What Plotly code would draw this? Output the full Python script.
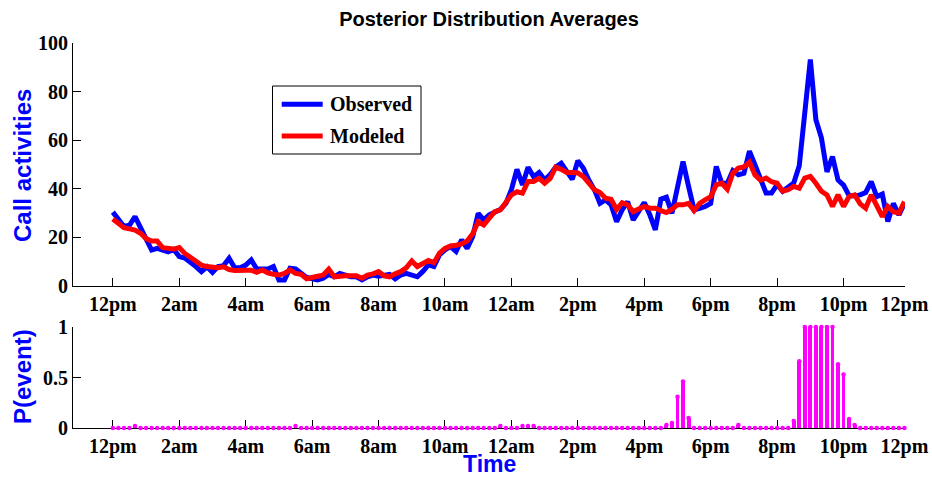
import plotly.graph_objects as go

# 10-minute bins over one day (144 samples)
observed = [
    30.4, 27.0, 24.5, 25.0, 28.6, 24.0, 19.0, 14.8, 15.5, 15.0,
    14.1, 15.0, 12.1, 11.5, 10.0, 8.0, 5.9, 7.9, 5.6, 8.0,
    8.4, 11.4, 7.5, 7.5, 8.6, 10.7, 7.0, 7.0, 7.0, 8.0,
    2.5, 2.5, 7.3, 7.0, 5.0, 3.5, 3.0, 2.5, 3.2, 4.8,
    3.8, 5.2, 4.5, 3.8, 3.8, 2.5, 3.8, 4.5, 4.0, 4.2,
    4.8, 2.9, 4.5, 5.2, 4.5, 3.8, 6.0, 8.7, 8.0, 12.8,
    14.9, 16.2, 14.2, 19.0, 15.5, 20.3, 29.9, 27.2, 29.3, 30.6,
    31.5, 34.0, 39.6, 48.0, 41.6, 48.9, 45.0, 46.7, 43.7, 45.8,
    48.9, 50.5, 47.0, 43.9, 51.6, 48.5, 43.5, 39.6, 34.0, 35.4,
    33.4, 26.5, 31.3, 34.7, 27.2, 30.6, 34.3, 29.3, 23.1, 35.7,
    36.5, 29.9, 40.9, 51.2, 41.0, 31.3, 32.0, 32.7, 34.0, 49.2,
    42.3, 42.3, 47.5, 45.8, 46.4, 55.5, 49.8, 44.4, 38.3, 38.3,
    41.7, 39.0, 40.4, 42.4, 49.5, 71.5, 93.2, 68.4, 61.0, 47.0,
    53.3, 43.6, 41.5, 37.2, 37.0, 37.5, 38.5, 43.0, 36.8, 37.8,
    26.5, 34.0, 29.2, 34.0,
]

modeled = [
    27.6, 25.5, 24.0, 23.5, 23.0, 21.7, 19.5, 18.5, 18.5, 15.8,
    15.3, 15.2, 15.8, 13.4, 11.8, 10.0, 8.6, 8.0, 7.5, 7.5,
    7.9, 6.8, 6.4, 6.2, 6.5, 6.5, 5.6, 6.6, 5.4, 4.8,
    4.5, 5.2, 6.6, 5.2, 4.8, 3.0, 3.3, 4.0, 4.5, 6.9,
    3.8, 4.2, 4.2, 4.2, 4.2, 3.2, 4.5, 5.0, 5.9, 4.2,
    3.8, 5.0, 5.9, 7.5, 10.3, 8.0, 9.0, 10.5, 9.6, 13.5,
    15.5, 16.5, 16.8, 17.3, 18.5, 21.5, 26.5, 25.1, 27.9, 30.6,
    31.3, 34.7, 37.5, 38.8, 38.2, 43.0, 43.0, 44.3, 42.3, 44.3,
    48.9, 48.0, 46.7, 46.7, 46.5, 45.0, 42.5, 39.6, 38.5, 36.1,
    35.7, 31.5, 34.3, 33.4, 30.6, 31.6, 32.7, 32.0, 32.0, 31.0,
    30.2, 31.6, 33.4, 33.4, 34.0, 31.0, 34.0, 35.4, 36.8, 41.6,
    42.3, 39.8, 46.4, 48.5, 49.0, 51.0, 45.7, 43.6, 44.4, 42.9,
    42.3, 39.0, 39.6, 41.0, 40.2, 44.4, 45.1, 42.3, 39.0, 37.5,
    32.7, 37.5, 32.7, 36.8, 37.5, 33.8, 32.0, 37.5, 33.4, 28.6,
    32.7, 30.6, 30.0, 34.7,
]

# posterior probability of an event per bin (bins not listed are 0)
event_prob_nonzero = {
    4: 0.02, 33: 0.02, 70: 0.02, 74: 0.02, 75: 0.02, 76: 0.02,
    100: 0.03, 101: 0.05, 102: 0.31, 103: 0.46, 104: 0.10,
    113: 0.03,
    123: 0.07, 124: 0.66, 125: 1.0, 126: 1.0, 127: 1.0, 128: 1.0,
    129: 1.0, 130: 1.0, 131: 0.63, 132: 0.53, 133: 0.09, 134: 0.03,
}

tick_bins = [0, 12, 24, 36, 48, 60, 72, 84, 96, 108, 120, 132, 143]
tick_labels = ["12pm", "2am", "4am", "6am", "8am", "10am", "12am",
               "2pm", "4pm", "6pm", "8pm", "10pm", "12pm"]

bins = list(range(len(observed)))
event_prob = [event_prob_nonzero.get(b, 0.0) for b in bins]

W, H = 932, 477
ML, MR, MT, MB = 73, 27, 43, 49
PW, PH = W - ML - MR, H - MT - MB


def px_x(p):
    return (p - ML) / PW


def px_y(p):
    return (H - MB - p) / PH


SERIF = "Liberation Serif"
SANS = "Liberation Sans"
BLUE = "#0000FF"
RED = "#FF0000"
MAGENTA = "#FF00FF"

fig = go.Figure()
fig.add_trace(go.Scatter(x=bins, y=observed, mode="lines", name="Observed",
                         line=dict(color=BLUE, width=5), xaxis="x", yaxis="y"))
fig.add_trace(go.Scatter(x=bins, y=modeled, mode="lines", name="Modeled",
                         line=dict(color=RED, width=5), xaxis="x", yaxis="y"))
fig.add_trace(go.Bar(x=bins, y=event_prob, width=0.7, marker=dict(color=MAGENTA, line_width=0),
                     xaxis="x2", yaxis="y2", showlegend=False))
fig.add_trace(go.Scatter(x=bins, y=event_prob, mode="markers", cliponaxis=False,
                         marker=dict(color=MAGENTA, size=4.5), xaxis="x2", yaxis="y2",
                         showlegend=False))

tick_font = dict(family=SERIF, size=20, color="black", weight="bold")
common_x = dict(range=[-7.2, 143.1], tickmode="array", tickvals=tick_bins, ticktext=tick_labels,
                ticks="inside", ticklen=8, tickcolor="black", tickwidth=1,
                showline=True, linecolor="black", linewidth=1, showgrid=False,
                zeroline=False, tickfont=tick_font, layer="below traces", automargin=False)
common_y = dict(ticks="inside", ticklen=8, tickcolor="black", tickwidth=1,
                showline=True, linecolor="black", linewidth=1, showgrid=False,
                zeroline=False, tickfont=tick_font, automargin=False)

top_bottom = px_y(286)
bottom_top = px_y(327)

fig.update_layout(
    width=W, height=H,
    autosize=False,
    margin=dict(l=ML, r=MR, t=MT, b=MB, autoexpand=False),
    paper_bgcolor="white", plot_bgcolor="white",
    showlegend=False,
    bargap=0,
    xaxis=dict(domain=[0, 1], anchor="y", **common_x),
    yaxis=dict(domain=[top_bottom, 1], anchor="x", range=[0, 100],
               tickvals=[0, 20, 40, 60, 80, 100], **common_y),
    xaxis2=dict(domain=[0, 1], anchor="y2", **common_x),
    yaxis2=dict(domain=[0, bottom_top], anchor="x2", range=[0, 1],
                tickvals=[0, 0.5, 1], ticktext=["0", "0.5", "1"], **common_y),
    title=dict(text="Posterior Distribution Averages", x=0.5, xanchor="center",
               xref="paper", y=1 - 19 / H, yref="container", yanchor="middle",
               font=dict(family=SANS, size=20, color="black", weight="bold")),
)

label_font = dict(family=SANS, size=24, color=BLUE, weight="bold")
fig.add_annotation(text="Call activities", x=px_x(22), y=px_y(166), xref="paper", yref="paper",
                   textangle=-90, showarrow=False, xanchor="center", yanchor="middle",
                   font=label_font)
fig.add_annotation(text="P(event)", x=px_x(22), y=px_y(377), xref="paper", yref="paper",
                   textangle=-90, showarrow=False, xanchor="center", yanchor="middle",
                   font=label_font)
fig.add_annotation(text="Time", x=px_x(489), y=px_y(464), xref="paper", yref="paper",
                   showarrow=False, xanchor="center", yanchor="middle", borderpad=0,
                   font=dict(family=SANS, size=23, color=BLUE, weight="bold"))

# legend box
fig.add_shape(type="rect", xref="paper", yref="paper",
              x0=px_x(272.5), x1=px_x(421), y0=px_y(154), y1=px_y(86),
              line=dict(color="black", width=1), fillcolor="white", layer="above")
legend_font = dict(family=SERIF, size=20, color="black", weight="bold")
for name, color, ypix in (("Observed", BLUE, 104.3), ("Modeled", RED, 136.0)):
    fig.add_shape(type="line", xref="paper", yref="paper",
                  x0=px_x(281.7), x1=px_x(322.7), y0=px_y(ypix), y1=px_y(ypix),
                  line=dict(color=color, width=5), layer="above")
    fig.add_annotation(text=name, x=px_x(328.3), y=px_y(ypix), xref="paper", yref="paper",
                       showarrow=False, xanchor="left", yanchor="middle", font=legend_font)

fig.write_html("out.html", config={"responsive": False})
